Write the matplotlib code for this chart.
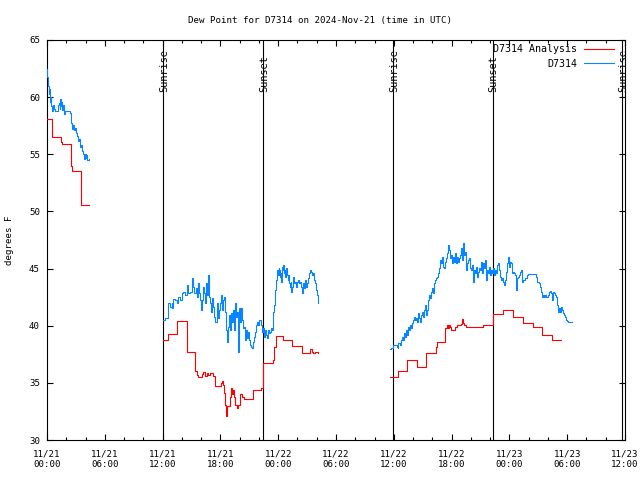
import numpy as np
import matplotlib
matplotlib.use('Agg')
import matplotlib.pyplot as plt

# hours since 2024-11-21 00:00 UTC, dew point in degrees F
# D7314 observations (three pieces with gaps between them)
obs_t1 = [0.0, 0.03, 0.1, 0.17, 0.21, 0.27, 0.31, 0.38, 0.42, 0.48, 0.55, 0.62, 0.7, 0.8,
          0.9, 1.0, 1.1, 1.2, 1.3, 1.35, 1.42, 1.5, 1.6, 1.7, 1.8, 1.9, 2.0, 2.1, 2.3, 2.4,
          2.5, 2.6, 2.7, 2.8, 2.9, 3.0, 3.1, 3.2, 3.3, 3.4, 3.5, 3.6, 3.7, 3.8, 3.9, 4.0,
          4.1, 4.2, 4.33]
obs_v1 = [62.5, 61.8, 61.0, 60.3, 60.7, 59.9, 59.6, 60.0, 59.2, 58.8, 58.8, 59.3, 59.0, 58.8,
          58.8, 58.8, 59.3, 59.5, 59.0, 59.8, 59.2, 59.6, 58.9, 59.3, 58.5, 58.8, 58.8, 58.8,
          58.8, 58.6, 57.7, 57.2, 57.6, 57.1, 57.3, 56.9, 56.6, 56.2, 56.3, 55.6, 55.8, 55.3,
          55.0, 54.6, 55.0, 54.7, 54.9, 54.5, 54.6]

obs_t2 = [12.08, 12.25, 12.53, 12.6, 12.77, 12.94, 13.01, 13.11, 13.29, 13.46, 13.63, 13.81,
          13.98, 14.15, 14.32, 14.5, 14.67, 14.84, 15.02, 15.12, 15.29, 15.43, 15.54, 15.64,
          15.74, 15.88, 15.99, 16.09, 16.19, 16.3, 16.4, 16.54, 16.64, 16.75, 16.85, 16.95,
          17.06, 17.16, 17.27, 17.37, 17.47, 17.61, 17.72, 17.82, 17.92, 18.03, 18.13, 18.23,
          18.34, 18.44, 18.55, 18.65, 18.75, 18.86, 18.96, 19.07, 19.17, 19.27, 19.38, 19.48,
          19.58, 19.69, 19.79, 19.86, 19.97, 20.07, 20.17, 20.28, 20.38, 20.48, 20.59, 20.69,
          20.8, 20.9, 21.0, 21.11, 21.21, 21.32, 21.42, 21.52, 21.63, 21.73, 21.83, 21.94,
          22.04, 22.11, 22.22, 22.32, 22.42, 22.53, 22.63, 22.73, 22.84, 22.94, 23.05, 23.15,
          23.25, 23.36, 23.43, 23.5, 23.57, 23.63, 23.7, 23.77, 23.84, 23.91, 23.98, 24.05,
          24.12, 24.19, 24.26, 24.33, 24.4, 24.47, 24.53, 24.6, 24.67, 24.74, 24.81, 24.88,
          24.95, 25.02, 25.09, 25.16, 25.23, 25.3, 25.36, 25.43, 25.5, 25.57, 25.68, 25.78,
          25.88, 25.99, 26.09, 26.2, 26.3, 26.4, 26.51, 26.61, 26.71, 26.82, 26.92, 27.03,
          27.13, 27.23, 27.34, 27.44, 27.54, 27.65, 27.75, 27.86, 27.96, 28.06, 28.17]
obs_v2 = [40.5, 40.65, 40.79, 41.96, 41.67, 41.96, 41.52, 42.31, 42.25, 42.02, 42.54, 42.25,
          42.83, 42.98, 42.69, 43.56, 42.83, 42.98, 44.14, 43.42, 42.83, 43.27, 42.54, 43.71,
          42.83, 42.25, 41.37, 42.25, 43.42, 42.83, 41.96, 43.71, 42.69, 44.44, 42.54, 41.96,
          41.23, 42.4, 41.67, 40.79, 40.35, 41.96, 40.65, 41.37, 41.96, 42.69, 41.37, 42.25,
          42.54, 41.23, 39.62, 38.6, 39.92, 40.94, 39.62, 41.08, 40.35, 41.37, 39.62, 41.96,
          40.79, 41.23, 40.5, 37.73, 41.52, 40.35, 41.52, 40.5, 39.77, 39.92, 38.75, 39.62,
          38.9, 39.48, 38.75, 38.31, 38.17, 38.02, 38.6, 39.04, 39.48, 40.06, 40.35, 40.06,
          40.5, 40.5, 40.06, 39.48, 39.77, 39.04, 39.62, 39.19, 38.9, 39.62, 39.33, 39.48,
          39.77, 39.62, 40.5, 41.23, 41.81, 42.54, 43.12, 44.0, 44.58, 44.87, 44.44, 45.02,
          44.87, 44.29, 44.58, 43.85, 45.16, 44.87, 45.31, 44.58, 44.87, 44.29, 45.02, 44.58,
          44.44, 44.0, 44.44, 43.71, 43.42, 43.85, 42.98, 43.42, 43.71, 44.29, 43.71, 43.85,
          43.42, 43.85, 44.0, 43.71, 43.85, 43.42, 42.83, 43.71, 43.27, 44.0, 43.42, 43.71,
          44.14, 44.58, 44.87, 44.73, 44.44, 44.58, 44.0, 43.71, 43.12, 42.69, 41.96]

obs_t3 = [35.61, 35.71, 35.95, 36.3, 36.4, 36.47, 36.66, 36.75, 36.89, 36.99, 37.1, 37.2,
          37.3, 37.41, 37.51, 37.61, 37.72, 37.82, 37.93, 38.03, 38.13, 38.24, 38.34, 38.44,
          38.55, 38.65, 38.76, 38.86, 38.96, 39.07, 39.17, 39.28, 39.38, 39.48, 39.59, 39.69,
          39.79, 39.9, 40.0, 40.11, 40.21, 40.31, 40.42, 40.52, 40.62, 40.73, 40.83, 40.94,
          41.04, 41.14, 41.25, 41.35, 41.46, 41.56, 41.66, 41.77, 41.87, 41.97, 42.08, 42.18,
          42.29, 42.39, 42.49, 42.6, 42.7, 42.8, 42.91, 43.01, 43.12, 43.22, 43.32, 43.43,
          43.53, 43.63, 43.74, 43.84, 43.95, 44.05, 44.15, 44.26, 44.36, 44.47, 44.57, 44.67,
          44.78, 44.88, 44.95, 45.05, 45.16, 45.26, 45.37, 45.47, 45.57, 45.68, 45.78, 45.88,
          45.99, 46.09, 46.2, 46.3, 46.4, 46.51, 46.61, 46.71, 46.82, 46.92, 47.03, 47.13,
          47.23, 47.34, 47.44, 47.55, 47.65, 47.75, 47.86, 47.96, 48.06, 48.17, 48.27, 48.38,
          48.48, 48.58, 48.69, 48.79, 48.9, 49.0, 49.1, 49.21, 49.31, 49.41, 49.62, 49.83,
          49.97, 50.66, 50.73, 50.83, 51.11, 51.21, 51.32, 51.42, 51.52, 51.63, 51.73, 51.84,
          52.04, 52.15, 52.25, 52.36, 52.46, 52.56, 52.67, 52.77, 52.87, 52.98, 53.08, 53.19,
          53.29, 53.39, 53.5, 53.6, 53.7, 53.81, 53.91, 54.02, 54.12, 54.47]
obs_v3 = [37.93, 38.02, 38.31, 38.17, 38.02, 38.46, 38.31, 38.75, 39.04, 38.75, 39.33, 39.04,
          39.62, 39.19, 39.92, 39.62, 40.06, 39.77, 40.21, 40.5, 40.79, 40.5, 40.65, 40.35,
          41.08, 40.65, 40.35, 40.94, 41.23, 40.79, 41.37, 41.81, 40.94, 41.37, 42.25, 42.69,
          42.4, 42.98, 43.27, 42.83, 43.71, 44.0, 44.14, 44.29, 44.58, 45.02, 45.75, 45.46,
          46.04, 45.17, 45.02, 45.6, 45.89, 46.33, 47.06, 46.62, 45.89, 46.19, 45.46, 46.04,
          45.6, 46.33, 45.46, 46.04, 45.6, 45.89, 46.19, 46.77, 45.75, 47.21, 46.19, 46.48,
          44.87, 45.46, 45.75, 45.89, 45.02, 44.87, 45.31, 43.85, 44.87, 44.58, 45.17, 44.29,
          44.73, 45.02, 44.87, 45.6, 44.58, 45.46, 45.02, 45.75, 44.0, 44.87, 44.58, 45.17,
          44.44, 44.87, 44.58, 45.02, 44.44, 44.87, 44.58, 45.31, 45.46, 44.87, 44.29, 44.0,
          44.14, 43.85, 43.56, 44.0, 44.73, 45.46, 46.04, 45.17, 45.6, 45.46, 44.58, 44.73,
          44.58, 44.44, 43.12, 44.14, 44.29, 44.44, 44.73, 44.87, 43.85, 44.0, 44.14, 44.44,
          44.52, 44.52, 44.29, 43.85, 43.71, 43.42, 42.98, 42.54, 42.69, 42.54, 42.69, 42.54,
          42.69, 42.98, 43.07, 42.83, 42.25, 42.98, 42.83, 42.69, 42.54, 41.81, 41.23, 41.52,
          41.23, 41.67, 41.37, 41.08, 40.94, 40.73, 40.5, 40.44, 40.32, 40.32]

# D7314 Analysis (stepped)
ana_t1 = [0.0, 0.55, 1.48, 1.59, 2.49, 2.6, 3.5, 3.56, 4.33]
ana_v1 = [58.1, 56.5, 56.1, 55.9, 54.0, 53.5, 52.1, 50.6, 50.6]

ana_t2 = [12.08, 12.53, 13.53, 14.5, 15.4, 15.6, 15.71, 16.05, 16.23, 16.4, 16.57, 16.75,
          16.92, 17.27, 17.44, 18.03, 18.13, 18.27, 18.37, 18.48, 18.58, 18.68, 18.99, 19.1,
          19.2, 19.31, 19.41, 19.52, 19.72, 19.86, 20.03, 20.21, 20.42, 21.42, 22.21, 22.39,
          23.43, 23.57, 23.77, 24.47, 25.4, 26.44, 27.3, 27.48, 27.65, 27.82, 28.17]
ana_v2 = [38.75, 39.25, 40.41, 37.67, 36.04, 35.69, 35.54, 35.78, 35.98, 35.6, 35.89, 35.69,
          35.83, 35.6, 34.76, 35.02, 35.19, 34.81, 34.08, 33.06, 32.13, 32.97, 33.79, 34.52,
          34.02, 34.37, 33.79, 33.06, 32.77, 33.06, 34.02, 33.79, 33.56, 34.37, 34.55, 36.71,
          37.0, 38.17, 39.1, 38.75, 38.23, 37.64, 37.93, 37.73, 37.58, 37.73, 37.64]

ana_t3 = [35.61, 36.4, 37.34, 38.38, 39.34, 40.35, 40.45, 41.32, 41.49, 41.59, 41.73, 41.84,
          41.94, 42.39, 42.56, 42.98, 43.12, 43.22, 43.32, 43.46, 45.3, 46.27, 47.37, 48.34,
          49.38, 50.42, 51.35, 52.39, 53.32]
ana_v3 = [35.54, 36.04, 37.0, 36.39, 37.58, 38.17, 38.57, 39.77, 40.06, 39.77, 40.06, 39.86,
          39.62, 39.92, 40.06, 40.15, 40.56, 40.2, 40.06, 39.92, 40.06, 41.0, 41.35, 40.73,
          40.21, 39.86, 39.16, 38.75, 38.75]

sun_t = [12.07, 22.38, 35.95, 46.25, 59.72]
sun_lbl = ['Sunrise', 'Sunset', 'Sunrise', 'Sunset', 'Sunrise']

fonte = 'DejaVu Sans Mono'
fs = 6.6
vermelho = '#ff0000'
azul = '#0a84ff'

fig = plt.figure(figsize=(6.4, 4.8), dpi=100)
ax = fig.add_axes([47 / 640, 40 / 480, 578 / 640, 400 / 480])

# linhas do nascer/por do sol
for t, lbl in zip(sun_t, sun_lbl):
    ax.axvline(t, color='black', lw=0.8, zorder=1)
    ax.text(t + 0.12, 60.45, lbl, rotation=90, ha='center', va='bottom',
            fontsize=7.4, family=fonte, zorder=2)

first = True
for t, v in [(ana_t1, ana_v1), (ana_t2, ana_v2), (ana_t3, ana_v3)]:
    ax.plot(t, v, color=vermelho, lw=0.8, drawstyle='steps-post',
            label='D7314 Analysis' if first else None, zorder=3)
    first = False
first = True
for t, v in [(obs_t1, obs_v1), (obs_t2, obs_v2), (obs_t3, obs_v3)]:
    ax.plot(t, v, color=azul, lw=0.8, drawstyle='steps-post',
            label='D7314' if first else None, zorder=3)
    first = False

ax.set_xlim(0, 60)
ax.set_ylim(30, 65)
ax.set_xticks(range(0, 61, 6))
ax.set_xticks(range(0, 61, 2), minor=True)
xlabels = ['11/%d\n%02d:00' % (21 + h // 24, h % 24) for h in range(0, 61, 6)]
ax.set_xticklabels(xlabels, family=fonte, fontsize=fs)
ax.set_yticks(range(30, 66, 5))
ax.set_yticklabels([str(v) for v in range(30, 66, 5)], family=fonte, fontsize=fs)
ax.tick_params(which='both', direction='in', top=True, right=True, width=0.8)
ax.tick_params(which='major', length=4)
ax.tick_params(which='minor', length=2)
ax.tick_params(axis='x', pad=7)
ax.tick_params(axis='y', pad=5)
for s in ax.spines.values():
    s.set_linewidth(0.8)

leg = ax.legend(loc='upper right', bbox_to_anchor=(0.997, 1.012), frameon=False,
                markerfirst=False, handlelength=3.0, handletextpad=0.7,
                labelspacing=0.45, prop={'family': fonte, 'size': 7.2})

fig.text(0.5, 1 - 20 / 480, 'Dew Point for D7314 on 2024-Nov-21 (time in UTC)',
         ha='center', va='center', family=fonte, fontsize=fs)
fig.text(10 / 640, 240 / 480, 'degrees F', rotation=90, ha='center', va='center',
         family=fonte, fontsize=fs)

plt.savefig('out.png', dpi=100)
